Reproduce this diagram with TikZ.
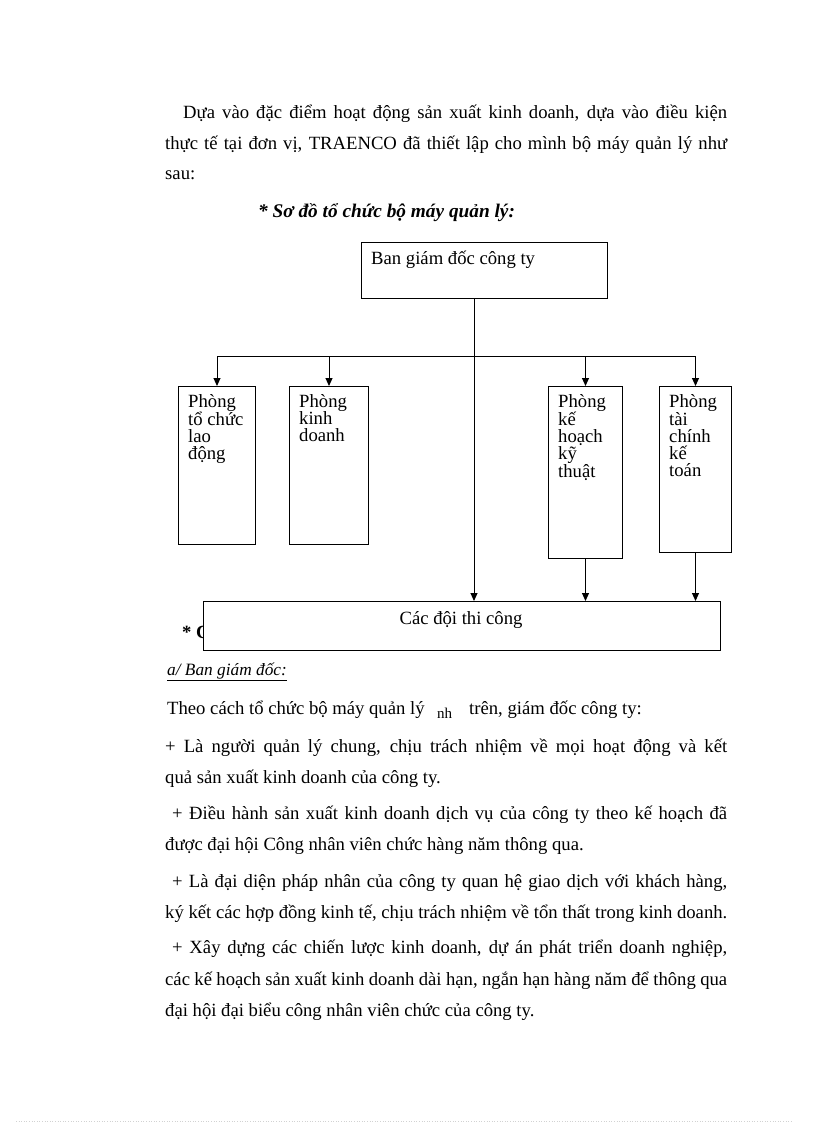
\documentclass[tikz,border=0pt]{standalone}
\usepackage{fontspec}
\setmainfont{Liberation Serif}
\usetikzlibrary{arrows.meta,calc}
\begin{document}
\begin{tikzpicture}[x=1pt,y=-1pt,
  box/.style={draw,line width=1pt,fill=white,inner sep=0pt,anchor=north west},
  boxtxt/.style={anchor=north west,inner sep=0pt,align=left,font=\fontsize{18.67}{17}\selectfont},
  body/.style={anchor=base west,inner sep=0pt,font=\fontsize{18.67}{20}\selectfont},
  conn/.style={line width=1pt},
  arr/.style={line width=1pt,-{Triangle[length=8pt,width=7pt]}}]
\useasboundingbox (0,0) rectangle (816,1123);
\fill[white] (0,0) rectangle (816,1123);
% intro paragraph
\node[body] (t1) at (183,119) {\makebox[544pt][s]{Dựa vào đặc điểm hoạt động sản xuất kinh doanh, dựa vào điều kiện}};
\node[body] (t2) at (165,150) {\makebox[562pt][s]{thực tế tại đơn vị, TRAENCO đã thiết lập cho mình bộ máy quản lý như}};
\node[body] (t3) at (165,180) {sau:};
\node[body,font=\fontsize{19.3}{20}\selectfont\bfseries\itshape] (head) at (258,218) {* Sơ đồ tổ chức bộ máy quản lý:};
% chart
\node[box,minimum width=246pt,minimum height=56pt] (bgd) at (361,242) {};
\node[boxtxt] (bgdt) at (371,251) {Ban giám đốc công ty};
\node[box,minimum width=77pt,minimum height=158pt] (p1) at (178,386) {};
\node[box,minimum width=79pt,minimum height=158pt] (p2) at (289,386) {};
\node[box,minimum width=74pt,minimum height=172pt] (p3) at (548,386) {};
\node[box,minimum width=72pt,minimum height=166pt] (p4) at (659,386) {};
\node[boxtxt] (p1t) at (188,394) {Phòng\\tổ chức\\lao\\động};
\node[boxtxt] (p2t) at (299,394) {Phòng\\kinh\\doanh};
\node[boxtxt] (p3t) at (558,394) {Phòng\\kế\\hoạch\\kỹ\\thuật};
\node[boxtxt] (p4t) at (669,394) {Phòng\\tài\\chính\\kế\\toán};
\node[body,font=\fontsize{18.67}{20}\selectfont\bfseries] (cc) at (182,638) {* C};
\node[box,minimum width=517pt,minimum height=49pt] (doi) at (203,601) {};
\node[boxtxt,anchor=base] (doit) at (461,624) {Các đội thi công};
\coordinate (j) at (474,356);
\draw[arr] (bgd.south -| j) -- (doi.north -| j);
\draw[conn] (p1.north |- j) -- (p4.north |- j);
\draw[arr] (p1.north |- j) -- (p1.north);
\draw[arr] (p2.north |- j) -- (p2.north);
\draw[arr] (p3.north |- j) -- (p3.north);
\draw[arr] (p4.north |- j) -- (p4.north);
\draw[arr] (p3.south) -- (doi.north -| p3.south);
\draw[arr] (p4.south) -- (doi.north -| p4.south);
% text below
\node[body,font=\fontsize{17.3}{20}\selectfont\itshape] (a) at (167,675) {\underline{a/ Ban giám đốc:}};
\node[body] (b1) at (167,714) {Theo cách tổ chức bộ máy quản lý};
\node[body,font=\fontsize{15}{16}\selectfont] (b1n) at (437,718) {nh};
\node[body] (b1b) at (469,714) {trên, giám đốc công ty:};
\node[body] (b2) at (165,752) {\makebox[562pt][s]{+ Là người quản lý chung, chịu trách nhiệm về mọi hoạt động và kết}};
\node[body] (b3) at (165,783) {quả sản xuất kinh doanh của công ty.};
\node[body] (b4) at (172,819) {\makebox[555pt][s]{+ Điều hành sản xuất kinh doanh dịch vụ của công ty theo kế hoạch đã}};
\node[body] (b5) at (165,850) {được đại hội Công nhân viên chức hàng năm thông qua.};
\node[body] (b6) at (172,887) {\makebox[555pt][s]{+ Là đại diện pháp nhân của công ty quan hệ giao dịch với khách hàng,}};
\node[body] (b7) at (165,918) {ký kết các hợp đồng kinh tế, chịu trách nhiệm về tổn thất trong kinh doanh.};
\node[body] (b8) at (172,953) {\makebox[555pt][s]{+ Xây dựng các chiến lược kinh doanh, dự án phát triển doanh nghiệp,}};
\node[body] (b9) at (165,985) {\makebox[562pt][s]{các kế hoạch sản xuất kinh doanh dài hạn, ngắn hạn hàng năm để thông qua}};
\node[body] (b10) at (165,1016) {đại hội đại biểu công nhân viên chức của công ty.};
\coordinate (fl) at (16,1121);
\coordinate (fr) at (792,1121);
\draw[gray!35,dotted,line width=0.6pt] (fl) -- (fr);
\end{tikzpicture}
\end{document}
